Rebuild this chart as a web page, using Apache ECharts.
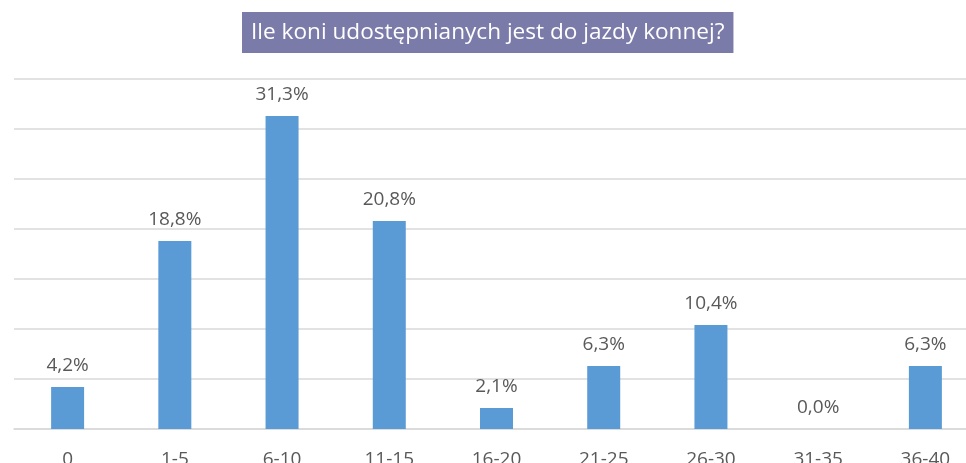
<!DOCTYPE html>
<html>
<head>
<meta charset="utf-8">
<script src="https://cdn.jsdelivr.net/npm/echarts@6/dist/echarts.min.js"></script>
<style>
  html, body { margin: 0; padding: 0; background: #fff; }
  #chart { width: 966px; height: 463px; }
</style>
</head>
<body>
<div id="chart"></div>
<script>
// przedziały liczby koni
var categories = ['0', '1-5', '6-10', '11-15', '16-20', '21-25', '26-30', '31-35', '36-40'];
// odsetek odpowiedzi w %
var values = [4.2, 18.8, 31.3, 20.8, 2.1, 6.3, 10.4, 0.0, 6.3];

var myChart = echarts.init(document.getElementById('chart'));

var option = {
    title: {
        text: 'Ile koni udostępnianych jest do jazdy konnej?',
        left: 242,
        top: 12,
        backgroundColor: '#7b7ba9',
        padding: [8, 9, 8, 9],
        textStyle: {
            color: '#ffffff',
            fontFamily: 'Open Sans',
            fontWeight: 'normal',
            fontSize: 22.6,
            lineHeight: 25
        }
    },
    grid: {
        left: 14,
        top: 79,
        width: 965,
        height: 350,
        outerBoundsMode: 'none',
        containLabel: false
    },
    xAxis: {
        type: 'category',
        data: categories,
        axisLine: { lineStyle: { color: '#d9d9d9', width: 1.5 } },
        axisTick: { show: false },
        axisLabel: {
            color: '#595959',
            fontFamily: 'Open Sans',
            fontSize: 19,
            margin: 21
        }
    },
    yAxis: {
        type: 'value',
        min: 0,
        max: 35,
        interval: 5,
        axisLabel: { show: false },
        axisLine: { show: false },
        axisTick: { show: false },
        splitLine: { lineStyle: { color: '#d9d9d9', width: 1.5 } }
    },
    series: [{
        type: 'bar',
        data: values,
        barWidth: 33,
        itemStyle: { color: '#5b9bd5' },
        label: {
            show: true,
            position: 'top',
            distance: 12,
            color: '#595959',
            fontFamily: 'Open Sans',
            fontSize: 19,
            formatter: function (p) {
                return p.value.toFixed(1).replace('.', ',') + '%';
            }
        }
    }]
};

myChart.setOption(option);
</script>
</body>
</html>
